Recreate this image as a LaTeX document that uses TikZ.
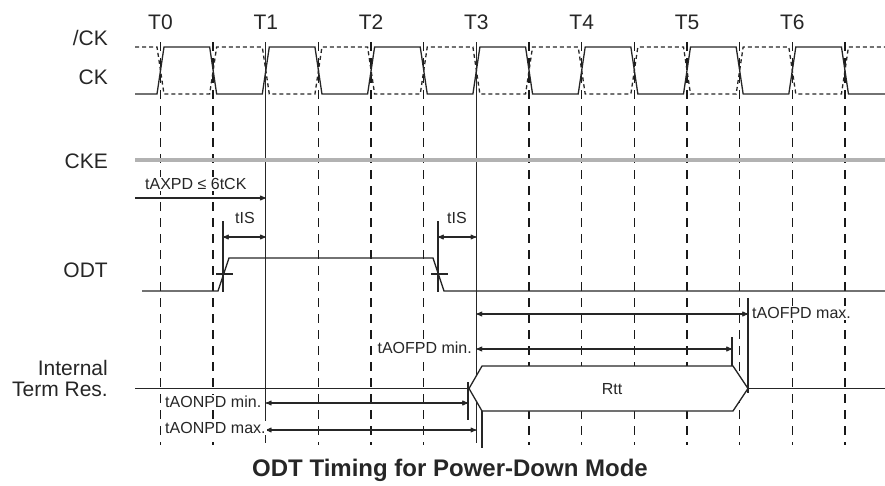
\documentclass[tikz,border=0pt]{standalone}
\usepackage{fontspec}
\setmainfont{Liberation Sans}
\usetikzlibrary{arrows,positioning}
\tikzset{
    %Define standard arrow tip
    >=stealth',
    %Define style for signal names
    signame/.style={
           anchor=east,
           align=right,
           inner sep=0pt,
           font=\fontsize{21}{21}\selectfont,
           text=black!85},
    %Define style for clock numbers
    clklabel/.style={
           inner sep=0pt,
           font=\fontsize{21}{21}\selectfont,
           text=black!85},
    %Define style for timing parameters
    param/.style={
           inner sep=1pt,
           fill=white,
           font=\fontsize{16}{16}\selectfont,
           text=black!85},
    % Define line styles
    wave/.style={
           line width=1.3pt,
           draw=black!85},
    tickline/.style={
           line width=1.4pt,
           draw=black!90,
           dash pattern=on 9pt off 7pt},
    clkdash/.style={
           dash pattern=on 4pt off 3pt},
    stopline/.style={
           line width=1.3pt,
           draw=black!85},
    % Define arrow style
    dimarrow/.style={
           <->,
           line width=1.1pt,
           draw=black!85}
}
\begin{document}
\begin{tikzpicture}[x=1pt,y=-1pt]
\useasboundingbox (0,0) rectangle (885,485);
% signal names
\node[signame] (nck) at (108,38) {/CK};
\node[signame] (ck) at (108,77) {CK};
\node[signame] (cke) at (108,161) {CKE};
\node[signame] (odt) at (108,270) {ODT};
\node[signame] (res) at (108,378) {Internal\\Term Res.};
% clock numbers and edge grid
\foreach \k in {0,...,6}
    \node[clklabel] (T\k) at ({160.5+105.3*\k},22) {T\k};
\foreach \k in {0,1,3,4,5,7,8,9,10,11,12,13}
    \draw[tickline] ({160.5+52.65*\k},42) -- ({160.5+52.65*\k},445);
\coordinate (t1) at (265.8,42);
\coordinate (t3) at (476.4,42);
\draw[stopline] (t1) -- (265.8,443);
\draw[stopline] (t3) -- (476.4,443);
% clock pair
\draw[wave] (135,94)
    \foreach \k in {0,...,6}{
        -- ({157+105.3*\k},94) -- ({164+105.3*\k},47)
        -- ({209.65+105.3*\k},47) -- ({216.65+105.3*\k},94)}
    -- (885,94);
\draw[wave,clkdash] (135,47)
    \foreach \k in {0,...,6}{
        -- ({157+105.3*\k},47) -- ({164+105.3*\k},94)
        -- ({209.65+105.3*\k},94) -- ({216.65+105.3*\k},47)}
    -- (885,47);
% CKE
\draw[line width=4pt, black!30] (135,160) -- (885,160);
\coordinate (axpd0) at (135,198);
\coordinate (axpd1) at (265.8,198);
\draw[->, line width=1.1pt, black!85] (axpd0) -- (axpd1);
\node[param, anchor=west] (axpd) at (144,184) {tAXPD ≤ 6tCK};
% ODT
\draw[wave] (142,291) -- (218,291) -- (229,258) -- (433,258) -- (444,291) -- (885,291);
\coordinate (on) at (223,274);
\coordinate (off) at (438,274);
\draw[stopline] (223,221) -- (223,292) (216,274) -- (233,274);
\draw[stopline] (438,221) -- (438,292) (431,274) -- (448,274);
\coordinate (is0) at (223,237);
\coordinate (is1) at (265.8,237);
\coordinate (is2) at (438,237);
\coordinate (is3) at (476.4,237);
\draw[dimarrow] (is0) -- (is1);
\draw[dimarrow] (is2) -- (is3);
\node[param] (tis1) at (245,218) {tIS};
\node[param] (tis2) at (457,218) {tIS};
% internal termination
\draw[wave] (135,388.5) -- (469,388.5) (748,388.5) -- (885,388.5);
\draw[wave, fill=white] (469,388.5) -- (482,366) -- (733,366) -- (748,388.5)
    -- (733,411) -- (482,411) -- cycle;
\node[param] (rtt) at (612,389) {Rtt};
\draw[stopline] (468,382) -- (468,420);
\draw[stopline] (482,411) -- (482,448);
\draw[stopline] (732,337) -- (732,366);
\draw[stopline] (748,298) -- (748,393);
\coordinate (ofmax0) at (476.4,314);
\coordinate (ofmax1) at (748,314);
\coordinate (ofmin0) at (476.4,349);
\coordinate (ofmin1) at (732,349);
\coordinate (onmin0) at (265.8,403);
\coordinate (onmin1) at (468,403);
\coordinate (onmax0) at (265.8,430);
\coordinate (onmax1) at (476.4,430);
\draw[dimarrow] (ofmax0) -- (ofmax1);
\draw[dimarrow] (ofmin0) -- (ofmin1);
\draw[dimarrow] (onmin0) -- (onmin1);
\draw[dimarrow] (onmax0) -- (onmax1);
\node[param, anchor=west] (ofmax) at (751,313) {tAOFPD max.};
\node[param, anchor=east] (ofmin) at (473,348) {tAOFPD min.};
\node[param, anchor=west] (onmin) at (164,402) {tAONPD min.};
\node[param, anchor=west] (onmax) at (164,428) {tAONPD max.};
% caption
\node[font=\fontsize{24}{24}\selectfont\bfseries, text=black!85] (title) at (450,470) {ODT Timing for Power-Down Mode};
\end{tikzpicture}
\end{document}
